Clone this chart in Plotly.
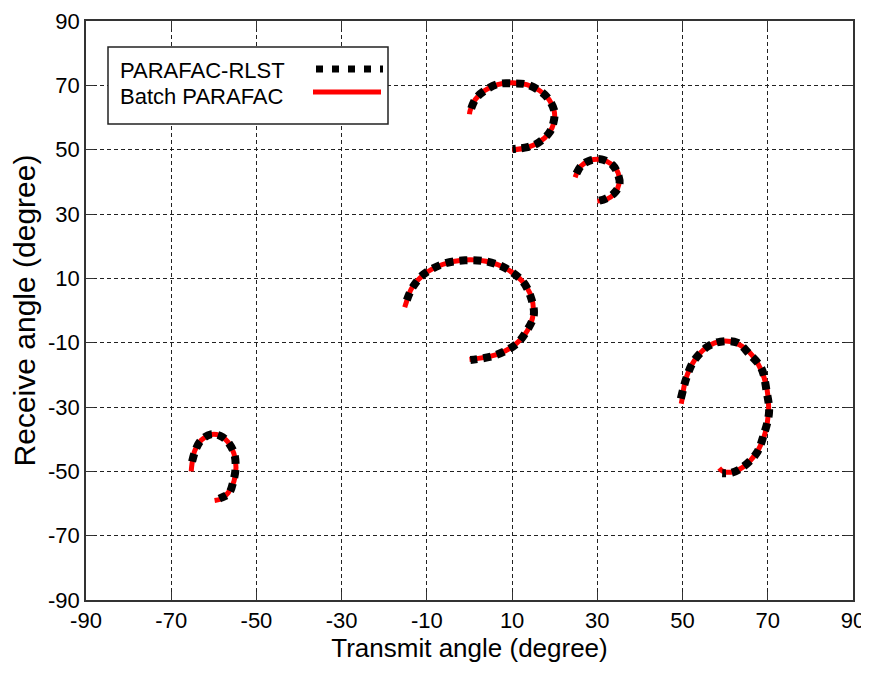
import plotly.graph_objects as go

# ---- data (degrees) ----
tick_vals = [-90, -70, -50, -30, -10, 10, 30, 50, 70, 90]
tick_text = ["-90", "-70", "-50", "-30", "-10", "10", "30", "50", "70", "90"]

# Batch PARAFAC (red), five target trajectories
batch1_x = [0.0, 0.15, 1.34, 3.57, 6.58, 10.0, 13.42, 16.43, 18.66, 19.85, 19.85, 18.66, 16.43, 13.42, 10.0]
batch1_y = [61.0, 62.2, 65.6, 68.4, 70.2, 70.8, 70.2, 68.4, 65.6, 62.2, 58.6, 55.2, 52.4, 50.6, 50.0]
batch2_x = [24.8, 26.0, 28.2, 30.9, 33.3, 34.9, 35.1, 34.0, 32.2, 30.0]
batch2_y = [41.4, 44.7, 46.6, 46.9, 45.5, 42.7, 39.4, 36.3, 34.6, 34.0]
batch3_x = [-15.2, -14.85, -13.6, -10.6, -6.34, -1.31, 3.88, 8.60, 12.29, 14.49, 14.94, 13.6, 10.6, 6.34, 0.0]
batch3_y = [1.0, 2.46, 6.85, 11.3, 14.3, 15.7, 15.3, 13.0, 9.2, 4.3, -1.05, -6.25, -10.7, -13.7, -15.2]
batch4_x = [49.7, 49.85, 50.76, 52.79, 55.69, 59.11, 62.64, 65.85, 68.35, 69.85, 70.16, 69.24, 67.21, 64.31, 61.77, 59.5, 58.6]
batch4_y = [-29.0, -27.85, -21.33, -15.5, -11.43, -9.58, -10.2, -13.2, -18.23, -24.7, -31.8, -38.67, -44.5, -48.57, -50.19, -50.0, -49.0]
batch5_x = [-65.3, -65.2, -64.5, -62.98, -60.9, -58.65, -56.66, -55.29, -54.8, -55.29, -56.66, -58.22, -59.82]
batch5_y = [-50.0, -48.44, -43.65, -40.36, -38.65, -38.85, -40.91, -44.44, -48.8, -53.15, -56.69, -58.48, -59.09]

# PARAFAC-RLST (black dotted)
rlst1_x = [0.4, 1.5, 3.4, 6.7, 10.2, 13.3, 16.6, 18.5, 19.9, 19.7, 18.8, 16.2, 13.6, 10.1]
rlst1_y = [62.8, 65.9, 68.2, 70.4, 70.6, 70.3, 68.2, 65.8, 62.0, 58.4, 55.4, 52.2, 50.8, 50.2]
rlst2_x = [25.1, 26.2, 28.0, 31.0, 33.5, 34.8, 35.2, 33.9, 32.0, 30.1]
rlst2_y = [42.6, 45.0, 46.5, 47.0, 45.3, 42.5, 39.2, 36.4, 34.8, 34.0]
rlst3_x = [-14.7, -13.4, -10.8, -6.1, -1.0, 4.1, 8.4, 12.5, 14.3, 15.1, 13.4, 10.9, 6.1, 0.2]
rlst3_y = [3.2, 7.1, 11.2, 14.5, 15.6, 15.2, 13.2, 9.0, 4.5, -1.3, -6.4, -10.5, -13.9, -15.4]
rlst4_x = [49.6, 50.9, 52.6, 55.9, 58.9, 62.8, 65.6, 68.5, 69.7, 70.3, 69.0, 67.4, 64.0, 61.6, 59.3]
rlst4_y = [-27.4, -21.0, -15.8, -11.2, -9.7, -10.0, -13.4, -18.0, -24.9, -31.6, -38.9, -44.3, -48.8, -50.4, -50.6]
rlst5_x = [-65.1, -64.3, -63.1, -60.7, -58.5, -56.8, -55.2, -54.9, -55.4, -56.5, -58.4, -59.9]
rlst5_y = [-47.0, -43.4, -40.5, -38.5, -39.0, -40.7, -44.6, -48.9, -53.0, -56.9, -58.3, -59.2]

series_names = ["PARAFAC-RLST", "Batch PARAFAC"]


def join(parts):
    out = []
    for i, p in enumerate(parts):
        if i:
            out.append(None)
        out.extend(p)
    return out


batch_x = join([batch1_x, batch2_x, batch3_x, batch4_x, batch5_x])
batch_y = join([batch1_y, batch2_y, batch3_y, batch4_y, batch5_y])
rlst_x = join([rlst1_x, rlst2_x, rlst3_x, rlst4_x, rlst5_x])
rlst_y = join([rlst1_y, rlst2_y, rlst3_y, rlst4_y, rlst5_y])

FONT = "Liberation Sans, Arial, sans-serif"

fig = go.Figure()
fig.add_trace(go.Scatter(
    x=batch_x, y=batch_y, mode="lines", name=series_names[1],
    line=dict(color="#ff0000", width=5, shape="spline"),
    connectgaps=False, showlegend=False))
fig.add_trace(go.Scatter(
    x=rlst_x, y=rlst_y, mode="lines", name=series_names[0],
    line=dict(color="#000000", width=8, dash="8px,6px", shape="spline"),
    connectgaps=False, showlegend=False))

axis_common = dict(
    range=[-90, 90], tickvals=tick_vals, ticktext=tick_text,
    showgrid=True, gridcolor="#222222", gridwidth=1, griddash="4px,3px",
    zeroline=False, showline=True, linecolor="#333333", linewidth=1.5,
    mirror="ticks", ticks="inside", ticklen=8, tickcolor="#333333",
    tickfont=dict(family=FONT, size=22, color="#000000"),
    ticklabeloverflow="allow",
    automargin=False,
)

fig.update_xaxes(**axis_common,
                 title=dict(text="Transmit angle (degree)", font=dict(family=FONT, size=26, color="#000000"), standoff=6))
fig.update_yaxes(**axis_common,
                 title=dict(text="Receive angle (degree)", font=dict(family=FONT, size=30, color="#000000"), standoff=4))

# the page body has an 8px margin: figure is laid out so that the
# plot area lands at page x 86..853, y 21..600
OFF = 8
TOP = 21
PL, PT, PW, PH = 86 - OFF, TOP - OFF, 767, 600 - TOP


def px_x(p):
    return (p - 86) / float(PW)


def px_y(p):
    return (600 - p) / float(PH)


shapes = [
    dict(type="rect", xref="paper", yref="paper",
         x0=px_x(108), x1=px_x(388), y0=px_y(124), y1=px_y(47),
         line=dict(color="#222222", width=1.5), fillcolor="white", layer="above"),
    dict(type="line", xref="paper", yref="paper",
         x0=px_x(316), x1=px_x(383), y0=px_y(69), y1=px_y(69),
         line=dict(color="#000000", width=7, dash="7px,9px")),
    dict(type="line", xref="paper", yref="paper",
         x0=px_x(313), x1=px_x(381), y0=px_y(92), y1=px_y(92),
         line=dict(color="#ff0000", width=5)),
]
annotations = [
    dict(text=series_names[0], xref="paper", yref="paper", x=px_x(118), y=px_y(70),
         xanchor="left", yanchor="middle", showarrow=False,
         font=dict(family=FONT, size=22, color="#000000")),
    dict(text=series_names[1], xref="paper", yref="paper", x=px_x(118), y=px_y(97),
         xanchor="left", yanchor="middle", showarrow=False,
         font=dict(family=FONT, size=22, color="#000000")),
]

W, H = 861, 658
fig.update_layout(
    width=W, height=H,
    margin=dict(l=PL, r=W - PL - PW, t=PT, b=H - PT - PH),
    paper_bgcolor="white", plot_bgcolor="white",
    shapes=shapes, annotations=annotations,
    showlegend=False,
)

fig.write_html("out.html")
